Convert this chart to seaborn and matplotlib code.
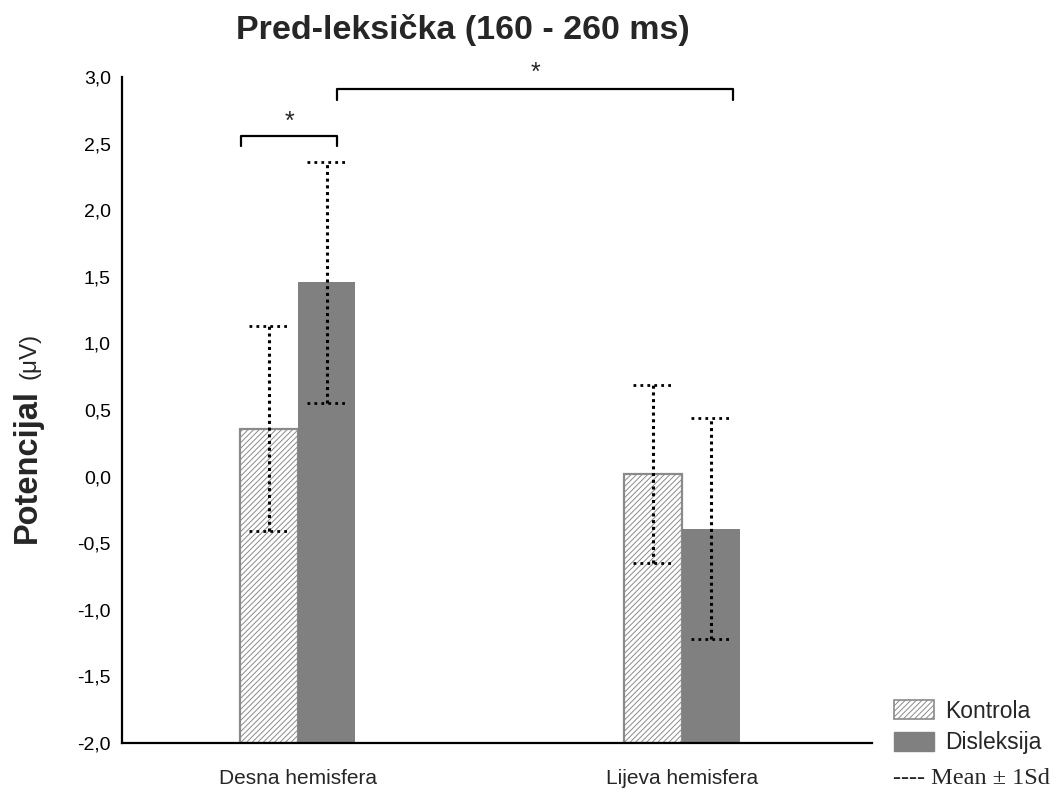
import matplotlib
matplotlib.use("Agg")
import matplotlib.pyplot as plt
import seaborn as sns
import pandas as pd
from matplotlib.patches import Patch

# ---- data ----
hemispheres = ["Desna hemisfera", "Lijeva hemisfera"]
groups = ["Kontrola", "Disleksija"]
kontrola_mean = [0.36, 0.02]
disleksija_mean = [1.46, -0.39]
kontrola_sd = [0.77, 0.665]
disleksija_sd = [0.905, 0.83]
y_ticks = [3.0, 2.5, 2.0, 1.5, 1.0, 0.5, 0.0, -0.5, -1.0, -1.5, -2.0]
y_tick_labels = ["3,0", "2,5", "2,0", "1,5", "1,0", "0,5", "0,0", "-0,5", "-1,0", "-1,5", "-2,0"]
baseline = -2.0

df = pd.DataFrame({
    "hemisfera": hemispheres * 2,
    "grupa": [groups[0]] * 2 + [groups[1]] * 2,
    "mean": kontrola_mean + disleksija_mean,
    "sd": kontrola_sd + disleksija_sd,
})

sns.set_style("white")
plt.rcParams["font.family"] = ["Liberation Sans", "DejaVu Sans"]
plt.rcParams["hatch.linewidth"] = 0.7

W, H = 1057, 796
fig = plt.figure(figsize=(W / 100, H / 100), dpi=100)
ax = fig.add_axes([122 / W, 1 - 743 / H, (872 - 122) / W, (743 - 77) / H])

sns.barplot(data=df, x="hemisfera", y="mean", hue="grupa", order=hemispheres,
            hue_order=groups, palette=["white", "#808080"], width=0.30,
            errorbar=None, legend=False, ax=ax)

bars = list(ax.patches)
# bars ordered: hue level then category
for i, p in enumerate(bars):
    h = p.get_height()
    p.set_y(baseline)
    p.set_height(h - baseline)
    if i < 2:
        p.set_facecolor("white")
        p.set_edgecolor("#8a8a8a")
        p.set_hatch("//////")
        p.set_linewidth(1.6)
    else:
        p.set_facecolor("#808080")
        p.set_edgecolor("#808080")
        p.set_linewidth(0)

# error bars (Mean ± 1 SD), dotted
for i, p in enumerate(bars):
    row = df.iloc[i]
    xc = p.get_x() + p.get_width() / 2
    lo, hi = row["mean"] - row["sd"], row["mean"] + row["sd"]
    ax.vlines(xc, lo, hi, colors="black", linestyles=(0, (1, 1.2)), linewidth=2.2, zorder=5)
    for yy in (lo, hi):
        ax.hlines(yy, xc - 0.052, xc + 0.052, colors="black", linestyles=(0, (1, 1.5)),
                  linewidth=2.0, zorder=5)

ax.set_xlim(-0.458, 1.495)
ax.set_ylim(-2.0, 3.0)
ax.set_yticks(y_ticks)
ax.set_yticklabels(y_tick_labels)
ax.tick_params(axis="y", direction="in", length=4, width=1, labelsize=14, pad=8, colors="black")
ax.tick_params(axis="x", direction="in", length=4, width=1, labelsize=15, pad=19)
for s in ["top", "right"]:
    ax.spines[s].set_visible(False)
for s in ["left", "bottom"]:
    ax.spines[s].set_color("black")
    ax.spines[s].set_linewidth(1.6)
ax.set_xlabel("")
ax.set_ylabel("")

# significance brackets
def bracket(x0, x1, y, drop, ystar):
    ax.plot([x0, x0, x1, x1], [y - drop, y, y, y - drop], color="black", lw=1.6,
            clip_on=False, solid_joinstyle="round")
    ax.text((x0 + x1) / 2, ystar, "*", ha="center", va="center", fontsize=18, clip_on=False)

bracket(-0.148, 0.102, 2.56, 0.08, 2.66)
bracket(0.102, 1.133, 2.91, 0.08, 3.03)

# title
fig.text(463 / W, 1 - 30 / H, "Pred-leksička (160 - 260 ms)", ha="center", va="center",
         fontsize=24.5, fontweight="bold")

# y label
fig.text(27 / W, 1 - 466 / H, "Potencijal", rotation=90, ha="center", va="center",
         fontsize=23.5, fontweight="bold")
fig.text(29 / W, 1 - 356 / H, "(μV)", rotation=90, ha="center", va="center", fontsize=17.5)

# legend
handles = [Patch(facecolor="white", edgecolor="#8a8a8a", hatch="//////", linewidth=1.2, label="Kontrola"),
           Patch(facecolor="#808080", edgecolor="#808080", label="Disleksija")]
fig.legend(handles=handles, loc="upper left", bbox_to_anchor=(889 / W, 1 - 695 / H),
           frameon=False, fontsize=16.5, handlelength=1.75, handleheight=0.9,
           handletextpad=0.5, labelspacing=0.38, borderaxespad=0, borderpad=0.2)
fig.text(893 / W, 1 - 779 / H, "---- Mean ± 1Sd", ha="left", va="center", fontsize=17.5,
         family=["Liberation Serif", "DejaVu Serif"])

fig.savefig("out.png", dpi=100)
